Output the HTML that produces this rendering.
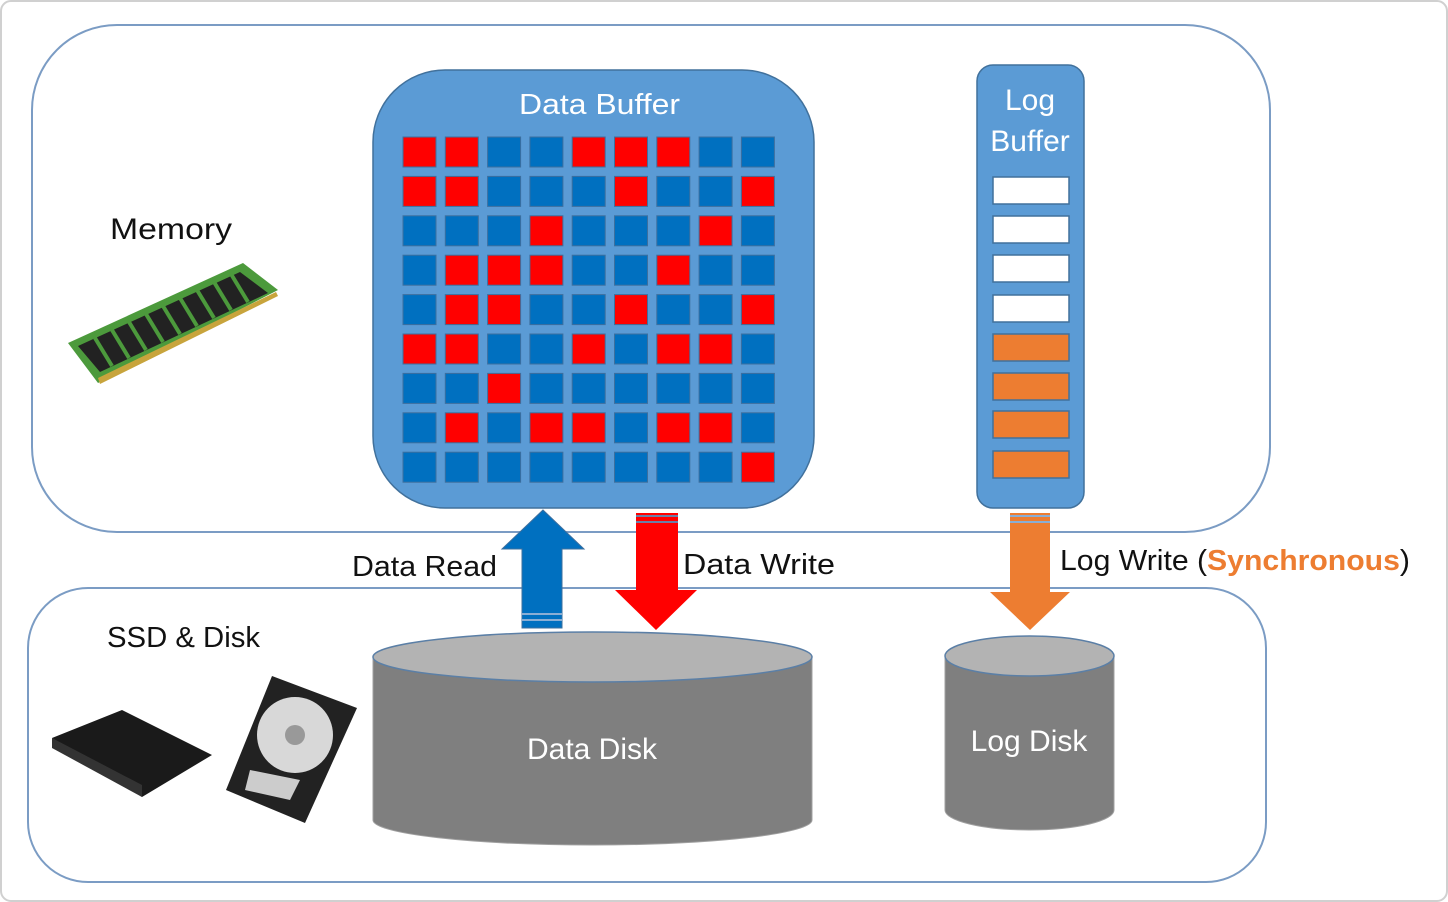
<!DOCTYPE html>
<html><head><meta charset="utf-8"><style>
html,body{margin:0;padding:0;background:#fff;}
svg{display:block;}
text{font-family:"Liberation Sans",sans-serif;}
</style></head><body>
<svg width="1448" height="902" viewBox="0 0 1448 902" xmlns="http://www.w3.org/2000/svg">
<rect x="1" y="1" width="1446" height="900" rx="10" fill="#fff" stroke="#d0d0d0" stroke-width="2"/>
<rect x="32" y="25" width="1238" height="507" rx="85" fill="#fff" stroke="#7b9cc4" stroke-width="2"/>
<rect x="28" y="588" width="1238" height="294" rx="60" fill="#fff" stroke="#7b9cc4" stroke-width="2"/>

<text x="110" y="239" font-size="30" fill="#111" textLength="122" lengthAdjust="spacingAndGlyphs">Memory</text>
<text x="107" y="647" font-size="29" fill="#111" textLength="153" lengthAdjust="spacingAndGlyphs">SSD &amp; Disk</text>

<polygon points="68,343 243,263 278,290 98,383" fill="#4c9a3c"/>
<polygon points="78,346 240,272 268,293 100,372" fill="#222"/>
<g stroke="#4c9a3c" stroke-width="4">
<line x1="95" y1="338" x2="112" y2="366"/><line x1="112" y1="330" x2="129" y2="358"/><line x1="129" y1="322" x2="146" y2="350"/><line x1="146" y1="314" x2="163" y2="342"/><line x1="163" y1="306" x2="180" y2="334"/><line x1="180" y1="298" x2="197" y2="326"/><line x1="197" y1="290" x2="214" y2="318"/><line x1="214" y1="282" x2="231" y2="310"/><line x1="231" y1="274" x2="248" y2="302"/>
</g>
<polygon points="98,378 276,292 278,296 100,384" fill="#c8a43c"/>

<polygon points="52,738 122,710 212,755 142,797" fill="#1a1a1a"/>
<polygon points="52,738 142,785 142,797 52,748" fill="#333"/>
<polygon points="272,676 357,708 305,823 226,790" fill="#222"/>
<circle cx="295" cy="735" r="38" fill="#d8d8d8"/>
<circle cx="295" cy="735" r="10" fill="#999"/>
<polygon points="250,770 300,780 290,800 245,790" fill="#ccc"/>

<rect x="373" y="70" width="441" height="438" rx="72" fill="#5b9bd5" stroke="#41719c" stroke-width="1.5"/>
<text x="519" y="114" font-size="29" fill="#fff" textLength="161" lengthAdjust="spacingAndGlyphs">Data Buffer</text>
<g id="grid" stroke="#3d6f9e" stroke-width="1"></g>

<rect x="977" y="65" width="107" height="443" rx="16" fill="#5b9bd5" stroke="#41719c" stroke-width="1.5"/>
<text x="1030" y="110" font-size="30" fill="#fff" text-anchor="middle">Log</text>
<text x="1030" y="151" font-size="30" fill="#fff" text-anchor="middle">Buffer</text>
<g stroke="#41719c" stroke-width="1.5">
<rect x="993" y="177" width="76" height="27" fill="#fff"/>
<rect x="993" y="216" width="76" height="27" fill="#fff"/>
<rect x="993" y="255" width="76" height="27" fill="#fff"/>
<rect x="993" y="295" width="76" height="27" fill="#fff"/>
<rect x="993" y="334" width="76" height="27" fill="#ed7d31"/>
<rect x="993" y="373" width="76" height="27" fill="#ed7d31"/>
<rect x="993" y="411" width="76" height="27" fill="#ed7d31"/>
<rect x="993" y="451" width="76" height="27" fill="#ed7d31"/>
</g>

<path d="M373,657 L373,820 A219.5,25 0 0 0 812,820 L812,657 Z" fill="#7f7f7f" stroke="#a0a0a0"/>
<ellipse cx="592.5" cy="657" rx="219.5" ry="25" fill="#b3b3b3" stroke="#5b7fa6" stroke-width="1.5"/>
<text x="592" y="759" font-size="30" fill="#fff" text-anchor="middle">Data Disk</text>
<path d="M945,656 L945,810 A84.5,20 0 0 0 1114,810 L1114,656 Z" fill="#7f7f7f" stroke="#a0a0a0"/>
<ellipse cx="1029.5" cy="656" rx="84.5" ry="20" fill="#b3b3b3" stroke="#5b7fa6" stroke-width="1.5"/>
<text x="1029" y="751" font-size="30" fill="#fff" text-anchor="middle">Log Disk</text>

<polygon points="543,510 584,549 562,549 562,628 522,628 522,549 502,549" fill="#0070c0" stroke="#3d6f9e"/>
<line x1="522" y1="614" x2="562" y2="614" stroke="#8aaed4" stroke-width="2"/>
<line x1="522" y1="620" x2="562" y2="620" stroke="#8aaed4" stroke-width="2"/>
<polygon points="636,513 678,513 678,590 697,590 656,630 615,590 636,590" fill="#ff0000"/>
<line x1="636" y1="516" x2="678" y2="516" stroke="#6a7fa8" stroke-width="2"/>
<line x1="636" y1="522" x2="678" y2="522" stroke="#6a7fa8" stroke-width="2"/>
<polygon points="1010,513 1050,513 1050,592 1070,592 1030,630 990,592 1010,592" fill="#ed7d31"/>
<line x1="1010" y1="516" x2="1050" y2="516" stroke="#8aaed4" stroke-width="2"/>
<line x1="1010" y1="522" x2="1050" y2="522" stroke="#8aaed4" stroke-width="2"/>

<text x="352" y="576" font-size="29" fill="#111" textLength="145" lengthAdjust="spacingAndGlyphs">Data Read</text>
<text x="683" y="574" font-size="29" fill="#111" textLength="152" lengthAdjust="spacingAndGlyphs">Data Write</text>
<text x="1060" y="570" font-size="29" fill="#111" textLength="350" lengthAdjust="spacingAndGlyphs">Log Write (<tspan fill="#ed7d31" font-weight="bold">Synchronous</tspan>)</text>
</svg>
<script>
var p=["RRBBRRRBB","RRBBBRBBR","BBBRBBBRB","BRRRBBRBB","BRRBBRBBR","RRBBRBRRB","BBRBBBBBB","BRBRRBRRB","BBBBBBBBR"];
var g=document.getElementById("grid"),s="";
for(var r=0;r<9;r++)for(var c=0;c<9;c++){
s+='<rect x="'+(403+c*42.3)+'" y="'+(137+r*39.4)+'" width="33" height="30" fill="'+(p[r][c]=="R"?"#ff0000":"#0070c0")+'"/>';}
g.innerHTML=s;
</script>
</body></html>
